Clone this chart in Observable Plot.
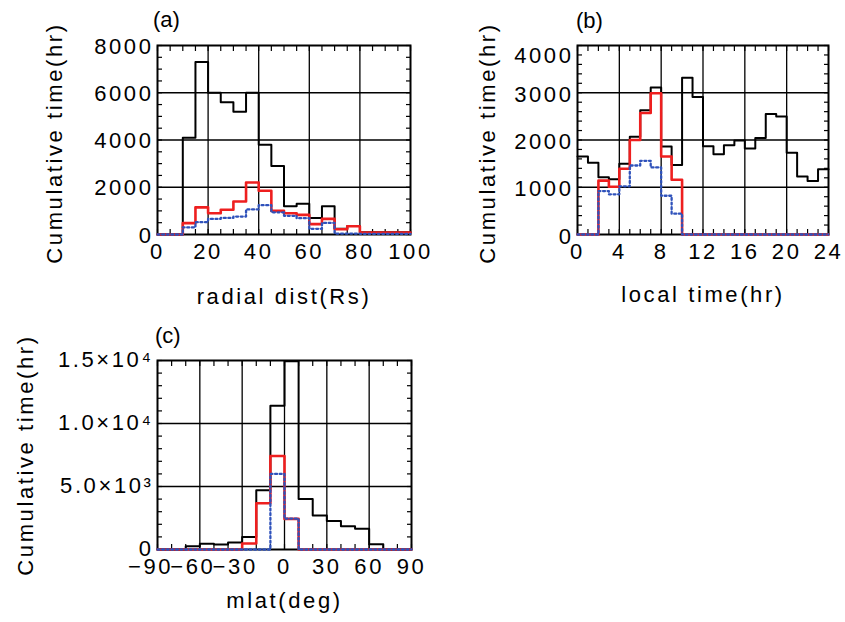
<!DOCTYPE html>
<html>
<head>
<meta charset="utf-8">
<script src="https://cdn.jsdelivr.net/npm/d3@7"></script>
<script src="https://cdn.jsdelivr.net/npm/@observablehq/plot@0.6"></script>
<style>
  body { margin: 0; background: #fff; }
  #wrap { position: relative; width: 845px; height: 622px; background: #fff; overflow: hidden; }
  .panel { position: absolute; }
  .tag { position: absolute; font-family: "Liberation Sans", Arial, sans-serif; font-size: 22px; line-height: 22px; color: #000; }
</style>
</head>
<body>
<div id="wrap"></div>
<script>
// ---------- data ----------
// (a) radial distance, 5 Rs bins (bin starts)
const radialStart = [0,5,10,15,20,25,30,35,40,45,50,55,60,65,70,75,80,85,90,95];
const radialAll   = [0,0,4100,7300,6000,5600,5200,6000,3800,2900,1200,1300,700,1200,240,360,90,90,90,90];
const radialRed   = [0,0,480,1150,900,1050,1400,2200,1850,1000,900,830,440,660,225,352,85,85,85,85];
const radialBlue  = [0,0,300,520,660,700,760,1060,1240,940,790,690,240,490,40,40,30,30,30,30];

// (b) local time, 1 hr bins
const localStart = [0,1,2,3,4,5,6,7,8,9,10,11,12,13,14,15,16,17,18,19,20,21,22,23];
const localAll   = [1650,1520,1210,1170,1500,2070,2630,3110,1860,1470,3320,2910,1870,1700,1890,1990,1820,2040,2550,2500,1730,1225,1130,1380];
const localRed   = [0,0,1140,1010,1390,2000,2570,2990,1650,1160,0,0,0,0,0,0,0,0,0,0,0,0,0,0];
const localBlue  = [0,0,920,850,1020,1460,1560,1420,820,440,0,0,0,0,0,0,0,0,0,0,0,0,0,0];

// (c) magnetic latitude, 10 deg bins
const mlatStart = [-90,-80,-70,-60,-50,-40,-30,-20,-10,0,10,20,30,40,50,60,70,80];
const mlatAll   = [0,0,260,450,400,550,1000,4700,11400,14950,4000,2700,2270,1850,1640,420,0,0];
const mlatRed   = [0,0,0,0,0,0,480,3670,7420,2430,0,0,0,0,0,0,0,0];
const mlatBlue  = [0,0,0,0,0,0,0,0,6000,2450,0,0,0,0,0,0,0,0];

// tick values
const radialMajor = [0,20,40,60,80,100];
const radialMinor = [0,5,10,15,20,25,30,35,40,45,50,55,60,65,70,75,80,85,90,95,100];
const radialYMajor = [0,2000,4000,6000,8000];
const radialYMinor = [0,500,1000,1500,2000,2500,3000,3500,4000,4500,5000,5500,6000,6500,7000,7500,8000];

const localMajor = [0,4,8,12,16,20,24];
const localMinor = [0,1,2,3,4,5,6,7,8,9,10,11,12,13,14,15,16,17,18,19,20,21,22,23,24];
const localYMajor = [0,1000,2000,3000];
const localYTop = [4000];
const localYMinor = [0,200,400,600,800,1000,1200,1400,1600,1800,2000,2200,2400,2600,2800,3000,3200,3400,3600,3800,4000];

const mlatMajorNeg = [-90,-60,-30];
const mlatMajorPos = [0,30,60,90];
const mlatMinor = [-90,-80,-70,-60,-50,-40,-30,-20,-10,0,10,20,30,40,50,60,70,80,90];
const mlatYMajor = [0,5000,10000,15000];
const mlatYMinor = [0,1000,2000,3000,4000,5000,6000,7000,8000,9000,10000,11000,12000,13000,14000,15000];
const mlatYLabels = {0: "0", 5000: "5.0×10³", 10000: "1.0×10⁴", 15000: "1.5×10⁴"};

// ---------- helpers ----------
function steps(starts, end, vals) {
  const pts = starts.map((s, i) => ({x: s, y: vals[i]}));
  pts.push({x: end, y: vals[vals.length - 1]});
  return pts;
}

const FONT = '"Liberation Sans", Arial, sans-serif';

function panel(o) {
  const inner = (arr, dom) => arr.filter(v => v > dom[0] && v < dom[1]);
  const marks = [
    Plot.gridX(inner(o.xGrid, o.xDomain), {stroke: "#000", strokeOpacity: 1, strokeWidth: 1.3}),
    Plot.gridY(inner(o.yGrid, o.yDomain), {stroke: "#000", strokeOpacity: 1, strokeWidth: 1.3}),
    Plot.axisX(o.xMinor, {anchor: "bottom", tickSize: -5, tickFormat: () => "", label: null, strokeWidth: 1.2}),
    Plot.axisX(o.xMinor, {anchor: "top", tickSize: -5, tickFormat: () => "", label: null, strokeWidth: 1.2}),
    Plot.axisY(o.yMinor, {anchor: "left", tickSize: -5, tickFormat: () => "", label: null, strokeWidth: 1.2}),
    Plot.axisY(o.yMinor, {anchor: "right", tickSize: -5, tickFormat: () => "", label: null, strokeWidth: 1.2}),
    Plot.frame({stroke: "#000", strokeWidth: 2}),
    Plot.lineY(steps(o.starts, o.xDomain[1], o.all), {x: "x", y: "y", curve: "step-after", stroke: "#000", strokeWidth: 2}),
    Plot.lineY(steps(o.starts, o.xDomain[1], o.red), {x: "x", y: "y", curve: "step-after", stroke: "#ee1f1f", strokeWidth: 2.6}),
    Plot.lineY(steps(o.starts, o.xDomain[1], o.blue), {x: "x", y: "y", curve: "step-after", stroke: "#2f52bb", strokeWidth: 2.3, strokeDasharray: "2,2.6"}),
    Plot.axisX(o.xMajor, {anchor: "bottom", tickSize: 0, tickPadding: 9, tickFormat: o.xFmt, label: null}),
    Plot.axisY(o.yMajor, {anchor: "left", tickSize: 0, tickPadding: 4, tickFormat: o.yFmt, label: null, dy: o.yLabDy || 0}),
    Plot.text([o.yTitle], {text: d => d, frameAnchor: "left", textAnchor: "middle", lineAnchor: "middle", rotate: -90, dx: o.ytDx, dy: o.ytDy}),
    Plot.text([o.xTitle], {text: d => d, frameAnchor: "bottom", textAnchor: "middle", lineAnchor: "middle", dy: o.xtDy})
  ];
  if (o.xNeg) marks.push(Plot.axisX(o.xNeg, {anchor: "bottom", tickSize: 0, tickPadding: 9, tickFormat: o.xFmt, label: null, dx: -7}));
  if (o.yTop) marks.push(Plot.axisY(o.yTop, {anchor: "left", tickSize: 0, tickPadding: 4, tickFormat: o.yFmt, label: null, dy: o.yTopDy}));
  return Plot.plot({
    width: o.width, height: o.height,
    marginLeft: o.ml, marginRight: o.mr, marginTop: o.mt, marginBottom: o.mb,
    x: {domain: o.xDomain},
    y: {domain: o.yDomain},
    style: {fontFamily: FONT, fontSize: "22px", letterSpacing: "2.6px", color: "#000", background: "transparent", overflow: "visible"},
    marks
  });
}

const fmtX = d => d < 0 ? "−" + Math.abs(d) : String(d);

const wrap = document.getElementById("wrap");
function place(svg, left, top) {
  svg.classList.add("panel");
  svg.style.position = "absolute";
  svg.style.left = left + "px";
  svg.style.top = top + "px";
  wrap.appendChild(svg);
}
function tag(t, left, top) {
  const d = document.createElement("div");
  d.className = "tag";
  d.textContent = t;
  d.style.left = left + "px";
  d.style.top = top + "px";
  wrap.appendChild(d);
}

// (a)
place(panel({
  width: 440, height: 315, ml: 157, mr: 30, mt: 45, mb: 81,
  xDomain: [0, 100], yDomain: [0, 8000],
  xMajor: radialMajor, xGrid: radialMajor, xMinor: radialMinor, yMajor: radialYMajor, yGrid: radialYMajor, yMinor: radialYMinor,
  xFmt: fmtX, yFmt: d => String(d), yLabDy: 1,
  starts: radialStart, all: radialAll, red: radialRed, blue: radialBlue,
  yTitle: "Cumulative time(hr)", ytDx: -103, ytDy: 3,
  xTitle: "radial dist(Rs)", xtDy: 62
}), 0, 0);

// (b)
place(panel({
  width: 405, height: 315, ml: 137, mr: 17, mt: 45, mb: 81,
  xDomain: [0, 24], yDomain: [0, 4000],
  xMajor: localMajor, xGrid: localMajor, xMinor: localMinor, yMajor: localYMajor, yGrid: localYMajor.concat(localYTop), yMinor: localYMinor,
  yTop: localYTop, yTopDy: 10,
  xFmt: fmtX, yFmt: d => String(d), yLabDy: 2,
  starts: localStart, all: localAll, red: localRed, blue: localBlue,
  yTitle: "Cumulative time(hr)", ytDx: -90, ytDy: 3,
  xTitle: "local time(hr)", xtDy: 60
}), 440, 0);

// (c)
place(panel({
  width: 440, height: 307, ml: 157, mr: 29, mt: 45, mb: 73,
  xDomain: [-90, 90], yDomain: [0, 15000],
  xMajor: mlatMajorPos, xNeg: mlatMajorNeg, xGrid: mlatMajorNeg.concat(mlatMajorPos), xMinor: mlatMinor,
  yMajor: mlatYMajor, yGrid: mlatYMajor, yMinor: mlatYMinor,
  xFmt: fmtX, yFmt: d => mlatYLabels[d], yLabDy: -1,
  starts: mlatStart, all: mlatAll, red: mlatRed, blue: mlatBlue,
  yTitle: "Cumulative time(hr)", ytDx: -132, ytDy: 0,
  xTitle: "mlat(deg)", xtDy: 51
}), 0, 315);

tag("(a)", 153, 9);
tag("(b)", 576, 10);
tag("(c)", 155, 325);
</script>
</body>
</html>
